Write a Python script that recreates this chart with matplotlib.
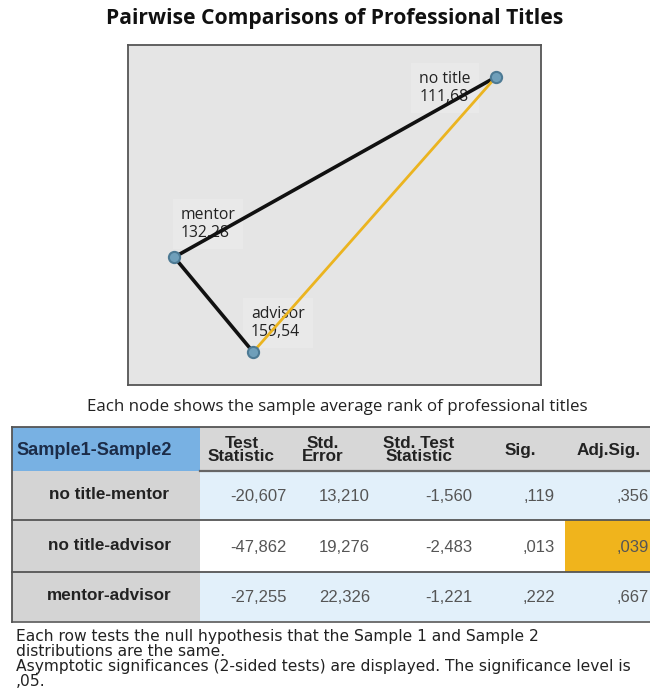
import matplotlib
matplotlib.use("Agg")
import matplotlib.pyplot as plt
from matplotlib.patches import Rectangle

# ---- data ----
groups = ["no title", "mentor", "advisor"]
mean_ranks = ["111,68", "132,28", "159,54"]
# layout of nodes (axis fractions) as drawn by the original
node_x = [0.891, 0.112, 0.303]
node_y = [0.906, 0.376, 0.097]

pairs = ["no title-mentor", "no title-advisor", "mentor-advisor"]
pair_idx = [(0, 1), (0, 2), (1, 2)]
test_stat = ["-20,607", "-47,862", "-27,255"]
std_error = ["13,210", "19,276", "22,326"]
std_test_stat = ["-1,560", "-2,483", "-1,221"]
sig = ["0.119", "0.013", "0.222"]
adj_sig = [0.356, 0.039, 0.667]
alpha = 0.05
headers = ["Sample1-Sample2", "Test\nStatistic", "Std.\nError", "Std. Test\nStatistic", "Sig.", "Adj.Sig."]

title = "Pairwise Comparisons of Professional Titles"
caption = "Each node shows the sample average rank of professional titles"
footnotes = ["Each row tests the null hypothesis that the Sample 1 and Sample 2",
             "distributions are the same.",
             "Asymptotic significances (2-sided tests) are displayed. The significance level is",
             ",05."]

W, H = 650, 691
fig = plt.figure(figsize=(W / 100, H / 100), dpi=100)
fig.patch.set_facecolor("white")

# background axes in pixel coordinates
bg = fig.add_axes([0, 0, 1, 1])
bg.set_xlim(0, W)
bg.set_ylim(H, 0)
bg.axis("off")

bg.text(335, 18, title, ha="center", va="center", fontsize=15.2, fontweight="bold",
        family="Open Sans", color="#111111")
bg.text(337, 407, caption, ha="center", va="center", fontsize=12.2, family="Open Sans",
        color="#222222")

# ---- network plot ----
L, T, R, B = 128, 45, 541, 385
ax = fig.add_axes([L / W, 1 - B / H, (R - L) / W, (B - T) / H])
ax.set_xlim(0, 1)
ax.set_ylim(0, 1)
ax.set_facecolor("#e5e5e5")
ax.set_xticks([])
ax.set_yticks([])
for s in ax.spines.values():
    s.set_color("#555555")
    s.set_linewidth(1.3)

for k, (i, j) in enumerate(pair_idx):
    significant = adj_sig[k] < alpha
    ax.plot([node_x[i], node_x[j]], [node_y[i], node_y[j]],
            color="#ebb420" if significant else "#111111",
            lw=2.0 if significant else 2.6, solid_capstyle="round", zorder=2)

label_off = [(-0.186, -0.032), (0.015, 0.097), (-0.005, 0.085)]
for i, g in enumerate(groups):
    dx, dy = label_off[i]
    ax.text(node_x[i] + dx, node_y[i] + dy, g + "\n" + mean_ranks[i], ha="left", va="center",
            fontsize=11.3, family="Open Sans", color="#222222", linespacing=1.2, zorder=1,
            bbox=dict(boxstyle="square,pad=0.5", fc="#e9e9e9", ec="none"))
ax.scatter(node_x, node_y, s=65, color="#6f9fba", edgecolor="#4d7a94", linewidth=1.5, zorder=3)

# ---- table ----
col_edges = [12, 200, 283, 363, 475, 565, 652]
row_edges = [427, 471, 520, 572, 622]
fs_head = 12.3
fs_cell = 12
tfam = "Liberation Sans"

for c in range(6):
    fc = "#78b1e3" if c == 0 else "#d7d7d7"
    bg.add_patch(Rectangle((col_edges[c], row_edges[0]), col_edges[c + 1] - col_edges[c],
                           row_edges[1] - row_edges[0], fc=fc, ec="none"))
    xc = (col_edges[c] + col_edges[c + 1]) / 2
    yc = (row_edges[0] + row_edges[1]) / 2 + 1
    if c == 0:
        bg.text(col_edges[0] + 4, yc, headers[c], ha="left", va="center", fontsize=13.1,
                fontweight="bold", family=tfam, color="#1c2c48")
    else:
        bg.text(xc, yc, headers[c], ha="center", va="center", fontsize=fs_head,
                fontweight="bold", family=tfam, color="#222222", linespacing=0.9)

cols = [test_stat, std_error, std_test_stat, [s.replace("0.", ",") for s in sig],
        [("%.3f" % v).replace("0.", ",") for v in adj_sig]]
right_x = [287, 370, 472, 555, 649]
for r in range(3):
    y0, y1 = row_edges[r + 1], row_edges[r + 2]
    yc = (y0 + y1) / 2
    bg.add_patch(Rectangle((col_edges[0], y0), col_edges[1] - col_edges[0], y1 - y0,
                           fc="#d4d4d4", ec="none"))
    rowc = "#ffffff" if r == 1 else "#e2f0fa"
    bg.add_patch(Rectangle((col_edges[1], y0), col_edges[6] - col_edges[1], y1 - y0,
                           fc=rowc, ec="none"))
    if adj_sig[r] < alpha:
        bg.add_patch(Rectangle((col_edges[5], y0), col_edges[6] - col_edges[5], y1 - y0,
                               fc="#f0b41c", ec="none"))
    bg.text((col_edges[0] + col_edges[1]) / 2 + 3, yc - 1, pairs[r], ha="center", va="center",
            fontsize=fs_head, fontweight="bold", family=tfam, color="#222222")
    for c in range(5):
        bg.text(right_x[c], yc + 1, cols[c][r], ha="right", va="center", fontsize=fs_cell,
                family=tfam, color="#555555")

# grid lines
bg.plot([col_edges[0], col_edges[6]], [row_edges[0], row_edges[0]], color="#555555", lw=1.3)
bg.plot([col_edges[1], col_edges[6]], [row_edges[1], row_edges[1]], color="#666666", lw=1.6)
for yy in row_edges[2:4]:
    bg.plot([col_edges[0], col_edges[6]], [yy, yy], color="#555555", lw=1.3)
bg.plot([col_edges[0], col_edges[6]], [row_edges[4], row_edges[4]], color="#666666", lw=1.3)
bg.plot([col_edges[0], col_edges[0]], [row_edges[0], row_edges[4]], color="#555555", lw=1.3)

# footnotes
fy = [636, 651, 667, 682]
for t, y in zip(footnotes, fy):
    bg.text(16, y, t, ha="left", va="center", fontsize=11.2, family="DejaVu Sans", color="#222222")

fig.savefig("out.png", dpi=100, facecolor="white")
